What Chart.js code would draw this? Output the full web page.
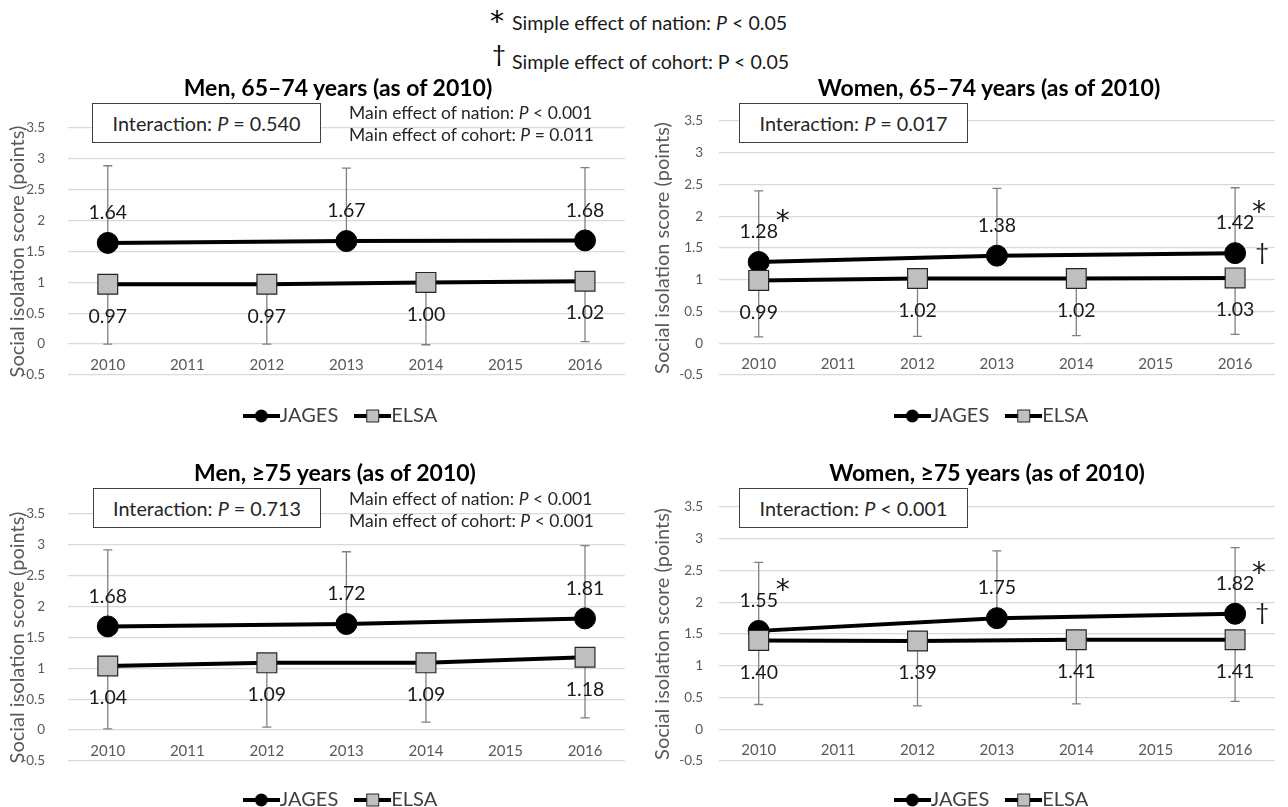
<!DOCTYPE html>
<html>
<head>
<meta charset="utf-8">
<script src="https://cdn.jsdelivr.net/npm/chart.js@4.4.1/dist/chart.umd.min.js"></script>
<style>
  html, body { margin: 0; padding: 0; width: 1288px; height: 807px; overflow: hidden; background: #fff; }
  body { position: relative; font-family: Lato, "Liberation Sans", sans-serif; color: #000; }
  canvas { position: absolute; }
  .t { position: absolute; white-space: nowrap; z-index: 3; }
  .mark { font-family: "DejaVu Sans", sans-serif; font-size: 28px; line-height: 28px; }
  .dag { font-size: 24px; line-height: 24px; }
  .head { font-size: 19.6px; line-height: 24px; color: #1a1a1a; }
  .title { font-weight: bold; font-size: 23px; line-height: 26px; transform: translate(-50%, -50%); }
  .box { position: absolute; z-index: 3; background: #fff; border: 1.3px solid #404040; box-sizing: border-box;
         display: flex; align-items: center; justify-content: center; font-size: 19.8px; color: #262626; }
  .main { font-size: 17.5px; line-height: 22px; color: #262626; }
</style>
</head>
<body>

<div class="t mark" style="left:490px; top:8px">*</div>
<div class="t head" style="left:512px; top:11px">Simple effect of nation: <i>P</i> &lt; 0.05</div>
<div class="t dag" style="left:492px; top:41px">†</div>
<div class="t head" style="left:512px; top:50px">Simple effect of cohort: P &lt; 0.05</div>

<div class="t title" style="left:338px; top:87px">Men, 65–74 years (as of 2010)</div>
<div class="t title" style="left:989px; top:87px">Women, 65–74 years (as of 2010)</div>
<div class="t title" style="left:335px; top:472px">Men, ≥75 years (as of 2010)</div>
<div class="t title" style="left:987px; top:472px">Women, ≥75 years (as of 2010)</div>

<div class="box" style="left:92px; top:103px; width:229px; height:40px">Interaction:&nbsp;<i>P</i>&nbsp;= 0.540</div>
<div class="box" style="left:739px; top:103px; width:229px; height:40px">Interaction:&nbsp;<i>P</i>&nbsp;= 0.017</div>
<div class="box" style="left:93px; top:488px; width:228px; height:40px">Interaction:&nbsp;<i>P</i>&nbsp;= 0.713</div>
<div class="box" style="left:739px; top:488px; width:229px; height:40px">Interaction:&nbsp;<i>P</i>&nbsp;&lt; 0.001</div>

<div class="t main" style="left:349px; top:102px">Main effect of nation: <i>P</i> &lt; 0.001<br>Main effect of cohort: <i>P</i> = 0.011</div>
<div class="t main" style="left:349px; top:488px">Main effect of nation: <i>P</i> &lt; 0.001<br>Main effect of cohort: <i>P</i> &lt; 0.001</div>

<canvas id="men6574" width="640" height="339" style="left:0px; top:97px"></canvas>
<canvas id="women6574" width="650" height="339" style="left:640px; top:97px"></canvas>
<canvas id="men75" width="640" height="337" style="left:0px; top:483px"></canvas>
<canvas id="women75" width="650" height="337" style="left:640px; top:483px"></canvas>

<script>
// categories
const years = ["2010", "2011", "2012", "2013", "2014", "2015", "2016"];
const jagesYears = ["2010", "2013", "2016"];
const elsaYears = ["2010", "2012", "2014", "2016"];

// Men, 65–74
const men6574Jages = [1.64, 1.67, 1.68];
const men6574JagesUpper = [2.89, 2.85, 2.86];
const men6574Elsa = [0.97, 0.97, 1.00, 1.02];
const men6574ElsaLower = [0.00, 0.00, -0.01, 0.04];

// Women, 65–74
const women6574Jages = [1.28, 1.38, 1.42];
const women6574JagesUpper = [2.40, 2.44, 2.45];
const women6574Elsa = [0.99, 1.02, 1.02, 1.03];
const women6574ElsaLower = [0.10, 0.11, 0.12, 0.14];

// Men, >=75
const men75Jages = [1.68, 1.72, 1.81];
const men75JagesUpper = [2.92, 2.89, 2.99];
const men75Elsa = [1.04, 1.09, 1.09, 1.18];
const men75ElsaLower = [0.02, 0.05, 0.13, 0.20];

// Women, >=75
const women75Jages = [1.55, 1.75, 1.82];
const women75JagesUpper = [2.63, 2.81, 2.86];
const women75Elsa = [1.40, 1.39, 1.41, 1.41];
const women75ElsaLower = [0.39, 0.37, 0.40, 0.44];

// significance marks (years)
const women6574Nation = ["2010", "2016"];
const women6574Cohort = ["2016"];
const women75Nation = ["2010", "2016"];
const women75Cohort = ["2016"];

const Y_MIN = -0.5, Y_MAX = 3.5, Y_STEP = 0.5;
const Y_TITLE = "Social isolation score (points)";

Chart.defaults.font.family = "Lato, 'Liberation Sans', sans-serif";

// small legend icons: line through the marker
function legendIcon(kind) {
  const c = document.createElement("canvas");
  c.width = 37; c.height = 16;
  const g = c.getContext("2d");
  g.strokeStyle = "#000"; g.lineWidth = 4;
  g.beginPath(); g.moveTo(0, 8); g.lineTo(37, 8); g.stroke();
  if (kind === "circle") {
    g.fillStyle = "#000";
    g.beginPath(); g.arc(18.5, 8, 6.5, 0, Math.PI * 2); g.fill();
  } else {
    g.fillStyle = "#bfbfbf"; g.fillRect(12.5, 2, 12, 12);
    g.lineWidth = 1; g.strokeStyle = "#262626"; g.strokeRect(12.5, 2, 12, 12);
  }
  return c;
}

const errorBars = {
  id: "errorBars",
  beforeDatasetsDraw(chart) {
    const { ctx, scales: { y } } = chart;
    ctx.save();
    ctx.strokeStyle = "#808080";
    ctx.lineWidth = 1.3;
    chart.data.datasets.forEach((ds, di) => {
      chart.getDatasetMeta(di).data.forEach((pt, i) => {
        const yEnd = y.getPixelForValue(ds.errEnd[i]);
        ctx.beginPath();
        ctx.moveTo(pt.x, pt.y); ctx.lineTo(pt.x, yEnd);
        ctx.moveTo(pt.x - 4.5, yEnd); ctx.lineTo(pt.x + 4.5, yEnd);
        ctx.stroke();
      });
    });
    ctx.restore();
  },
};

const valueLabels = {
  id: "valueLabels",
  afterDatasetsDraw(chart) {
    const ctx = chart.ctx;
    ctx.save();
    ctx.textAlign = "center";
    ctx.textBaseline = "middle";
    ctx.fillStyle = "#1a1a1a";
    chart.data.datasets.forEach((ds, di) => {
      const pts = chart.getDatasetMeta(di).data;
      ctx.font = "19.5px Lato";
      pts.forEach((pt, i) => ctx.fillText(ds.data[i].y.toFixed(2), pt.x, pt.y + ds.labelShift));
      const at = (yr) => pts[ds.data.findIndex((d) => d.x === yr)];
      ctx.font = "28px 'DejaVu Sans'";
      (ds.nation || []).forEach((yr) => { const p = at(yr); ctx.fillText("*", p.x + 24, p.y - 39); });
      ctx.font = "24px Lato";
      (ds.cohort || []).forEach((yr) => { const p = at(yr); ctx.fillText("†", p.x + 27, p.y - 1); });
    });
    ctx.restore();
  },
};

// Excel centres the legend under the chart title, not under the plot
const legendShift = {
  id: "legendShift",
  afterLayout(chart) {
    const dx = chart.options.legendDx || 0;
    chart.legend.left += dx;
    chart.legend.right += dx;
  },
};

// per-side geometry (left column / right column)
const SIDE = {
  left:  { axisWidth: 68, tickPad: 23, titlePad: 5.5, legendDx: 25 },
  right: { axisWidth: 79, tickPad: 16, titlePad: 11, legendDx: 31 },
};

function drawPanel(id, side, spacer, jages, jagesUp, elsa, elsaLow, nation, cohort) {
  const L = SIDE[side];
  new Chart(document.getElementById(id), {
    type: "line",
    data: {
      labels: years,
      datasets: [
        {
          label: "JAGES",
          data: jagesYears.map((yr, i) => ({ x: yr, y: jages[i] })),
          errEnd: jagesUp,
          labelShift: -30,
          nation, cohort,
          icon: legendIcon("circle"),
          borderColor: "#000",
          borderWidth: 4,
          pointStyle: "circle",
          pointRadius: 10.5,
          pointBackgroundColor: "#000",
          pointBorderColor: "#000",
          pointBorderWidth: 1,
          order: 1,
        },
        {
          label: "ELSA",
          data: elsaYears.map((yr, i) => ({ x: yr, y: elsa[i] })),
          errEnd: elsaLow,
          labelShift: 32,
          icon: legendIcon("rect"),
          borderColor: "#000",
          borderWidth: 4,
          pointStyle: "rect",
          pointRadius: 14,
          pointBackgroundColor: "#bfbfbf",
          pointBorderColor: "#262626",
          pointBorderWidth: 1.2,
          order: 0,
        },
      ],
    },
    options: {
      responsive: false,
      animation: false,
      events: [],
      legendDx: L.legendDx,
      layout: { padding: { top: 24, left: 0, right: 0, bottom: 0 } },
      scales: {
        x: {
          type: "category",
          offset: true,
          position: { y: 0 },
          grid: { display: false, drawTicks: false },
          border: { display: false },
          ticks: { color: "#595959", font: { size: 15 }, padding: 12, maxRotation: 0, autoSkip: false },
        },
        y: {
          min: Y_MIN, max: Y_MAX,
          grid: { color: "#d9d9d9", lineWidth: 1.3, drawTicks: false },
          border: { display: false },
          ticks: {
            color: "#595959", font: { size: 13.5 }, stepSize: Y_STEP, padding: L.tickPad,
            callback: (v) => String(Math.round(v * 10) / 10),
          },
          title: { display: true, text: Y_TITLE, color: "#595959", font: { size: 20 }, padding: { top: L.titlePad, bottom: 0 } },
          afterFit: (s) => { s.width = L.axisWidth; },
        },
      },
      plugins: {
        tooltip: { enabled: false },
        legend: {
          position: "bottom",
          title: { display: true, text: "", padding: 0, font: { size: spacer, lineHeight: 1 } },
          labels: {
            usePointStyle: true,
            pointStyleWidth: 17,
            padding: 26,
            color: "#404040",
            font: { size: 20 },
            generateLabels: (chart) => chart.data.datasets.map((ds, i) => ({
              text: ds.label, pointStyle: ds.icon, fillStyle: "#000", strokeStyle: "#000",
              lineWidth: 0, hidden: false, datasetIndex: i, fontColor: "#404040",
            })),
          },
        },
      },
    },
    plugins: [errorBars, valueLabels, legendShift],
  });
}

drawPanel("men6574", "left", 5, men6574Jages, men6574JagesUpper, men6574Elsa, men6574ElsaLower, [], []);
drawPanel("women6574", "right", 5, women6574Jages, women6574JagesUpper, women6574Elsa, women6574ElsaLower, women6574Nation, women6574Cohort);
drawPanel("men75", "left", 3, men75Jages, men75JagesUpper, men75Elsa, men75ElsaLower, [], []);
drawPanel("women75", "right", 3, women75Jages, women75JagesUpper, women75Elsa, women75ElsaLower, women75Nation, women75Cohort);
</script>
</body>
</html>
